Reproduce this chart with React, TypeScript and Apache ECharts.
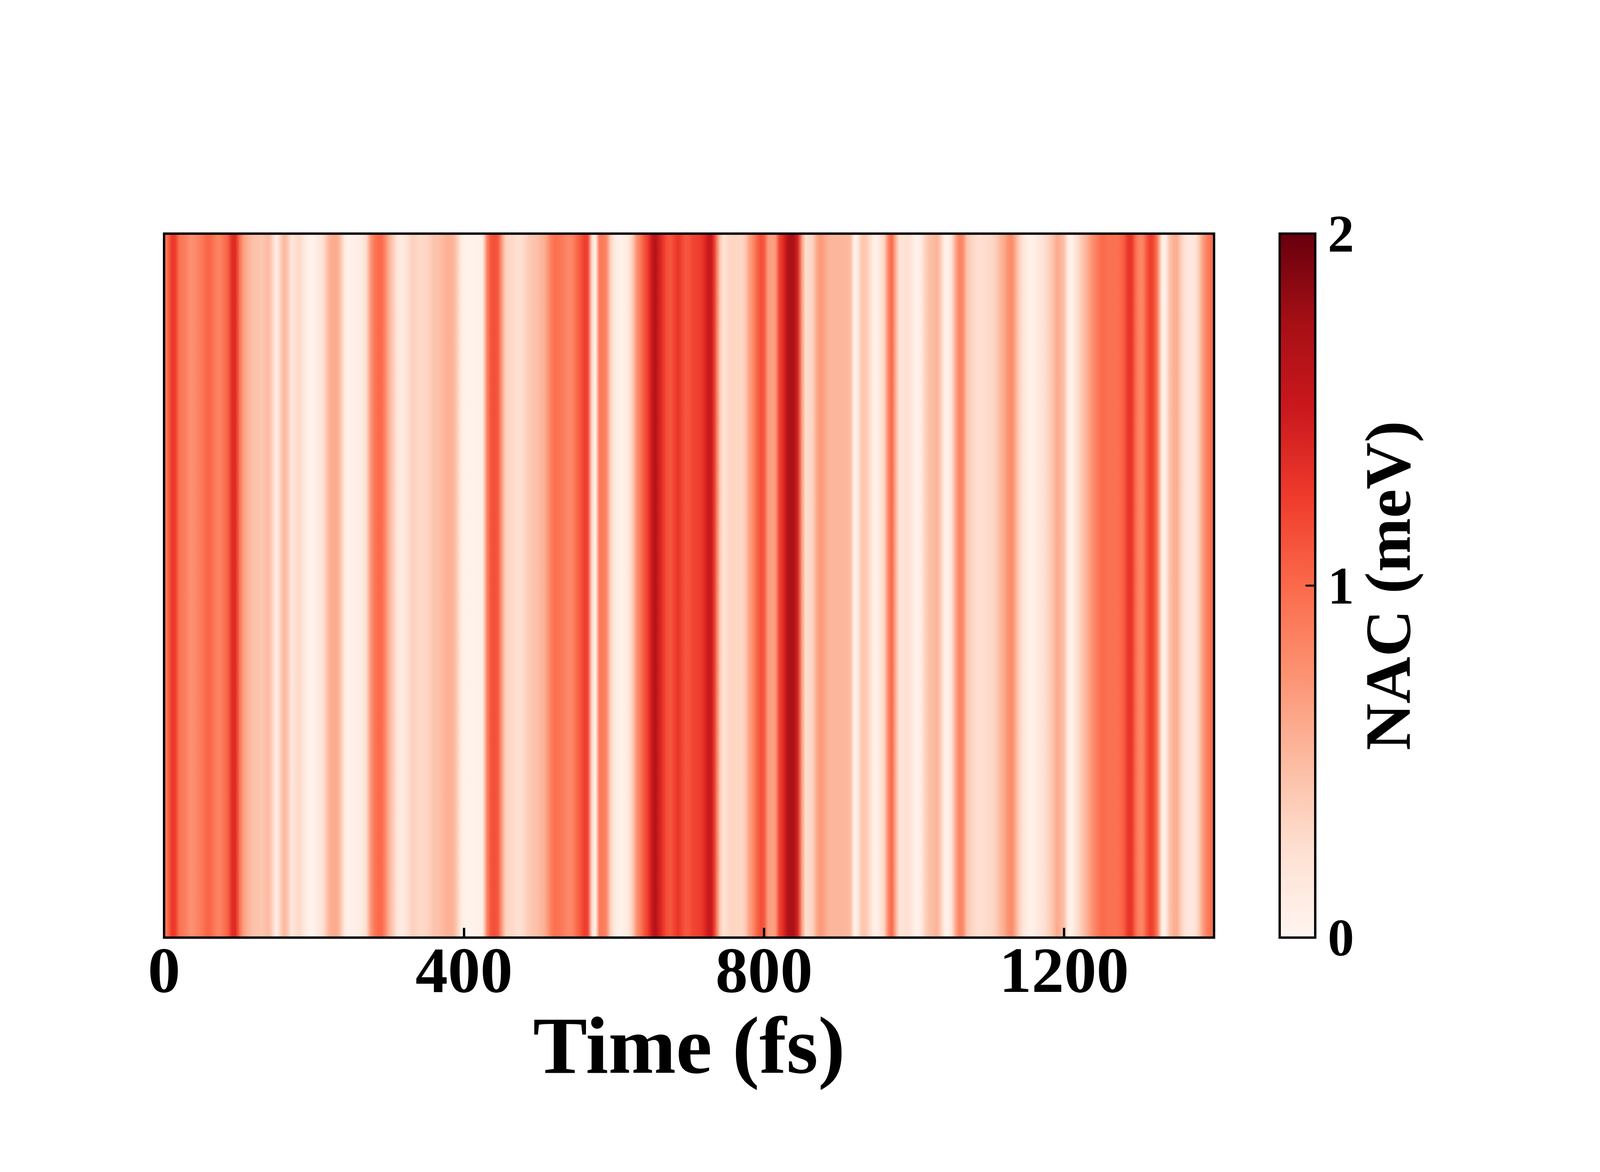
import { useRef, useEffect } from "react";
import * as echarts from "echarts";

const TIME_STEP = 5;
const nacValues = [
  // 0 - 95
  0.9, 1.0, 1.28, 1.25, 0.95, 0.9, 0.85, 0.75, 0.78, 0.85, 0.9, 1.0, 1.03, 0.95, 0.85, 0.85, 0.95, 1.05, 1.35, 1.38,
  // 100 - 195
  1.0, 0.7, 0.58, 0.5, 0.45, 0.45, 0.42, 0.48, 0.5, 0.3, 0.05, 0.35, 0.53, 0.4, 0.15, 0.25, 0.3, 0.2, 0.08, 0.03,
  // 200 - 295
  0.05, 0.15, 0.2, 0.35, 0.55, 0.6, 0.6, 0.45, 0.15, 0.05, 0.05, 0.07, 0.1, 0.15, 0.3, 0.7, 0.9, 1.0, 1.0, 0.8,
  // 300 - 395
  0.55, 0.4, 0.2, 0.12, 0.15, 0.25, 0.35, 0.33, 0.3, 0.3, 0.32, 0.38, 0.45, 0.45, 0.5, 0.55, 0.57, 0.55, 0.4, 0.15,
  // 400 - 495
  0.05, 0.03, 0.03, 0.05, 0.05, 0.1, 0.8, 1.1, 1.15, 1.1, 0.7, 0.35, 0.3, 0.3, 0.25, 0.25, 0.3, 0.38, 0.43, 0.45,
  // 500 - 595
  0.5, 0.55, 0.65, 0.85, 0.95, 0.95, 0.9, 0.85, 0.8, 0.85, 1.0, 1.1, 1.25, 1.2, 0.3, 0.02, 0.9, 0.9, 0.8, 0.35,
  // 600 - 695
  0.15, 0.05, 0.05, 0.1, 0.2, 0.4, 0.75, 0.9, 1.1, 1.25, 1.5, 1.65, 1.45, 1.3, 1.15, 1.1, 1.2, 1.3, 1.2, 1.1,
  // 700 - 795
  1.12, 1.2, 1.22, 1.25, 1.35, 1.5, 1.5, 1.1, 0.5, 0.2, 0.28, 0.32, 0.32, 0.32, 0.32, 0.4, 0.65, 0.8, 1.0, 1.15,
  // 800 - 895
  1.1, 0.68, 0.65, 0.7, 1.2, 1.35, 1.6, 1.72, 1.68, 1.4, 0.7, 0.25, 0.3, 0.35, 0.6, 0.72, 0.65, 0.55, 0.53, 0.53,
  // 900 - 995
  0.53, 0.53, 0.52, 0.5, 0.02, 0.15, 0.42, 0.42, 0.3, 0.1, 0.05, 0.2, 0.32, 0.8, 1.02, 0.6, 0.2, 0.22, 0.25, 0.2,
  // 1000 - 1095
  0.08, 0.05, 0.15, 0.35, 0.45, 0.5, 0.55, 0.4, 0.08, 0.05, 0.2, 0.6, 0.85, 0.8, 0.45, 0.35, 0.3, 0.25, 0.25, 0.28,
  // 1100 - 1195
  0.3, 0.32, 0.4, 0.52, 0.6, 0.75, 0.8, 0.6, 0.35, 0.2, 0.08, 0.05, 0.08, 0.15, 0.2, 0.28, 0.35, 0.45, 0.6, 0.55,
  // 1200 - 1295
  0.45, 0.1, 0.05, 0.2, 0.32, 0.45, 0.55, 0.7, 0.82, 0.9, 1.0, 0.98, 0.95, 0.95, 0.95, 1.0, 1.08, 1.3, 1.3, 1.0,
  // 1300 - 1400
  0.82, 0.85, 1.1, 1.25, 1.15, 0.8, 0.1, 0.05, 0.42, 0.55, 0.6, 0.4, 0.25, 0.15, 0.15, 0.2, 0.4, 0.68, 0.85, 0.95,
  1.0,
];

const TIME_MAX = 1400;
const TIME_TICK = 400;
const NAC_MAX = 2;
const NAC_TICK = 1;
const NAC_TICKS = [0, 1, 2];

// matplotlib "Reds"
const reds = [
  "#fff5f0", "#fee0d2", "#fcbba1", "#fc9272", "#fb6a4a",
  "#ef3b2c", "#cb181d", "#a50f15", "#67000d",
];

const FONT = "'Liberation Serif', 'Times New Roman', serif";

const nacColor = (v: number) =>
  echarts.color.lerp(Math.min(Math.max(v / NAC_MAX, 0), 1), reds) as string;

const App = () => {
  const chartRef = useRef(null);
  useEffect(() => {
    const chart = echarts.init(chartRef.current, null, { renderer: "svg" });

    const data = nacValues.map((v, i) => [i * TIME_STEP, v]);

    const frameLine = { onZero: false, lineStyle: { color: "#000", width: 6, cap: "square" } };
    const hidden = {
      axisTick: { show: false },
      axisLabel: { show: false },
      splitLine: { show: false },
    };

    const options = {
      animation: false,
      grid: [
        { left: 420, top: 598, width: 2688, height: 1802 },
        { left: 3276, top: 598, width: 91, height: 1802 },
      ],
      xAxis: [
        {
          gridIndex: 0,
          type: "value",
          min: 0,
          max: TIME_MAX,
          interval: TIME_TICK,
          position: "bottom",
          z: 10,
          axisLine: frameLine,
          axisTick: { inside: true, length: 25, lineStyle: { color: "#000", width: 6 } },
          axisLabel: {
            margin: 0,
            color: "#000",
            fontSize: 166,
            fontWeight: "bold",
            fontFamily: FONT,
            showMaxLabel: false,
            formatter: (v: number) => String(v),
          },
          splitLine: { show: false },
          name: "Time (fs)",
          nameLocation: "middle",
          nameGap: 172,
          nameTextStyle: { color: "#000", fontSize: 208, fontWeight: "bold", fontFamily: FONT },
        },
        {
          gridIndex: 0,
          type: "value",
          min: 0,
          max: TIME_MAX,
          position: "top",
          z: 10,
          axisLine: frameLine,
          ...hidden,
        },
        { gridIndex: 1, type: "value", min: 0, max: 1, show: false },
      ],
      yAxis: [
        {
          gridIndex: 0,
          type: "value",
          min: 0,
          max: 1,
          position: "left",
          z: 10,
          axisLine: frameLine,
          ...hidden,
        },
        {
          gridIndex: 0,
          type: "value",
          min: 0,
          max: 1,
          position: "right",
          z: 10,
          axisLine: frameLine,
          ...hidden,
        },
        {
          gridIndex: 1,
          type: "value",
          min: 0,
          max: NAC_MAX,
          interval: NAC_TICK,
          position: "right",
          z: 10,
          axisLine: { show: false, onZero: false },
          axisTick: { show: false },
          axisLabel: {
            margin: 32,
            color: "#000",
            fontSize: 135,
            fontWeight: "bold",
            fontFamily: FONT,
          },
          splitLine: { show: false },
          name: "NAC (meV)",
          nameLocation: "middle",
          nameGap: 103,
          nameTextStyle: { color: "#000", fontSize: 166, fontWeight: "bold", fontFamily: FONT },
        },
      ],
      series: [
        {
          // NAC map: each sample to the next, shaded smoothly between the two colours
          type: "custom",
          xAxisIndex: 0,
          yAxisIndex: 0,
          data,
          renderItem: (params: any, api: any) => {
            const i = params.dataIndex;
            if (i >= data.length - 1) return null;
            const [t0, v0] = data[i];
            const [t1, v1] = data[i + 1];
            const p0 = api.coord([t0, 1]);
            const p1 = api.coord([t1, 0]);
            const last = i === data.length - 2;
            return {
              type: "rect",
              shape: {
                x: p0[0],
                y: p0[1],
                width: p1[0] - p0[0] + (last ? 0 : 1),
                height: p1[1] - p0[1],
              },
              style: {
                fill: {
                  type: "linear",
                  x: 0,
                  y: 0,
                  x2: 1,
                  y2: 0,
                  colorStops: [
                    { offset: 0, color: nacColor(v0) },
                    { offset: 1, color: nacColor(v1) },
                  ],
                },
              },
            };
          },
        },
        {
          // colour bar with inward ticks on its right edge
          type: "custom",
          xAxisIndex: 2,
          yAxisIndex: 2,
          data: [[0, 0]],
          z: 5,
          renderItem: (params: any, api: any) => {
            const p0 = api.coord([0, NAC_MAX]);
            const p1 = api.coord([1, 0]);
            const ticks = NAC_TICKS.map((v) => {
              const p = api.coord([1, v]);
              return {
                type: "line",
                shape: { x1: p[0] - 25, y1: p[1], x2: p[0], y2: p[1] },
                style: { stroke: "#000", lineWidth: 5 },
              };
            });
            return {
              type: "group",
              children: [
                {
                  type: "rect",
                  shape: { x: p0[0], y: p0[1], width: p1[0] - p0[0], height: p1[1] - p0[1] },
                  style: {
                    fill: {
                      type: "linear",
                      x: 0,
                      y: 1,
                      x2: 0,
                      y2: 0,
                      colorStops: reds.map((c, i) => ({ offset: i / (reds.length - 1), color: c })),
                    },
                    stroke: "#000",
                    lineWidth: 6,
                  },
                },
                ...ticks,
              ],
            };
          },
        },
      ],
    };

    chart.setOption(options);

    return () => {
      chart.dispose();
    };
  }, []);
  return (
    <div
      ref={chartRef}
      style={{ position: "absolute", left: 0, top: 0, width: 4200, height: 3000 }}
    />
  );
};

export default App;
